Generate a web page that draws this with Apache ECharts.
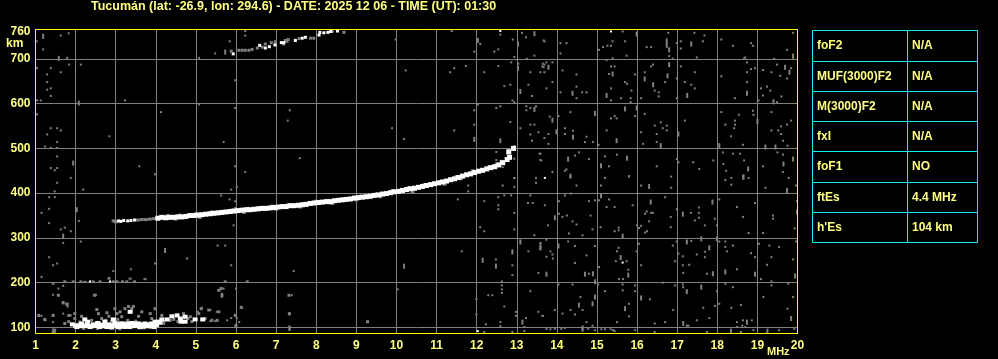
<!DOCTYPE html>
<html><head><meta charset="utf-8">
<script src="https://cdn.jsdelivr.net/npm/echarts@6/dist/echarts.min.js"></script>
<style>html,body{margin:0;padding:0;background:#000;}#c{width:998px;height:359px;}</style>
</head><body><div id="c"></div><script>
const titleText = "Tucumán (lat: -26.9, lon: 294.6) - DATE: 2025 12 06 - TIME (UT): 01:30";
const heightTicks = [100, 200, 300, 400, 500, 600, 700];
const heightLabels = [100, 200, 300, 400, 500, 600, 700, 760];
const freqMin = 1, freqMax = 20;
const tableLabels = ["foF2", "MUF(3000)F2", "M(3000)F2", "fxI", "foF1", "ftEs", "h'Es"];
const tableValues = ["N/A", "N/A", "N/A", "N/A", "NO", "4.4 MHz", "104 km"];

// F-layer trace (white), [MHz, km]
const fTraceStart = [[3.07,338],[3.13,337],[3.2,339],[3.3,338],[3.38,339],[3.47,340]];
const fTraceWhite = [[4.05,344],[4.15,346],[4.25,345],[4.35,346],[4.45,346],[4.55,347],[4.65,347],[4.75,348],[4.85,350],[4.95,350],[5.05,351],[5.15,352],[5.25,353],[5.35,354],[5.45,355],[5.55,356],[5.65,357],[5.75,358],[5.85,359],[5.95,360],[6.05,361],[6.15,362],[6.25,363],[6.35,363],[6.45,364],[6.55,365],[6.65,366],[6.75,366],[6.85,367],[6.95,368],[7.05,369],[7.15,370],[7.25,370],[7.35,372],[7.45,372],[7.55,373],[7.65,374],[7.75,375],[7.85,377],[7.95,378],[8.05,379],[8.15,380],[8.25,381],[8.35,381],[8.45,383],[8.55,384],[8.65,385],[8.75,386],[8.85,387],[8.95,389],[9.05,390],[9.15,391],[9.25,392],[9.35,393],[9.45,395],[9.55,396],[9.65,398],[9.75,399],[9.85,401],[9.95,403],[10.05,404],[10.15,406],[10.25,408],[10.35,410],[10.45,411],[10.55,413],[10.65,415],[10.75,417],[10.85,419],[10.95,421],[11.05,423],[11.15,425],[11.25,427],[11.35,430],[11.45,432],[11.55,435],[11.65,438],[11.75,441],[11.85,443],[11.95,446],[12.05,449],[12.15,451],[12.25,454],[12.35,457],[12.45,459],[12.55,463],[12.65,468],[12.76,475],[12.82,480],[12.8,492],[12.92,500]];
const fTraceGray = [[3.55,340],[3.65,341],[3.75,341],[3.85,342],[3.95,343],[4.3,350],[4.6,351],[5.0,354],[5.4,358],[5.9,362],[6.3,366],[6.6,368],[6.9,371],[7.3,374],[7.7,377],[8.0,382],[8.3,384],[8.7,388],[9.1,393],[9.5,398],[9.9,406],[10.3,412],[10.7,419],[11.1,426],[11.5,437],[11.9,450],[12.3,458],[12.5,465],[4.5,342],[5.1,346],[6.2,357],[7.0,364],[7.6,369],[8.4,377],[9.0,385],[9.6,392],[10.4,403],[11.2,420],[11.6,432],[12.8,497],[12.62,471],[3.0,336],[2.95,338]];

// second-hop trace near the top
const hop2White = [[5.93,711],[6.59,730],[6.73,724],[6.83,727],[6.97,731],[7.13,736],[7.19,736],[7.48,741],[7.65,746],[7.73,748],[8.07,753],[8.09,759],[8.19,758],[8.29,759],[8.36,761],[8.53,762]];
const hop2Gray = [[5.88,717],[6.07,719],[6.15,719],[6.23,719],[6.32,719],[6.4,721],[6.53,724],[6.65,726],[6.73,733],[6.88,736],[6.98,738],[7.23,741],[7.3,743],[7.27,739],[7.19,733],[7.57,745],[7.86,746],[7.94,746],[8.4,761],[8.69,759]];

// sporadic E trace near 100 km
const esWhite = [[1.92,107],[2.03,101],[2.07,105],[2.15,109],[2.23,118],[2.3,113],[2.32,103],[2.4,103],[2.48,103],[2.57,107],[2.65,103],[2.73,113],[2.73,103],[2.82,107],[2.9,105],[2.94,118],[2.98,110],[3.03,103],[3.11,109],[3.19,109],[3.23,101],[3.32,109],[3.36,135],[3.4,110],[3.48,109],[3.57,109],[3.65,105],[3.73,109],[3.82,106],[3.9,109],[3.98,113],[4.07,113],[4.15,118],[4.28,118],[4.4,125],[4.53,127],[4.61,120],[4.63,113],[4.73,124],[4.73,113],[4.98,118],[5.17,118],[2.2,103],[2.6,101],[2.9,100],[3.1,101],[3.45,103],[3.7,102],[3.9,103],
[2.0,104],[2.12,103],[2.28,106],[2.36,101],[2.44,107],[2.52,104],[2.69,106],[2.78,101],[2.86,103],[3.0,107],[3.07,101],[3.15,104],[3.27,105],[3.35,101],[3.52,104],[3.6,101],[3.78,103],[3.95,101],[4.02,105],[4.1,111],[3.62,107],[3.85,107],[3.3,103],[2.55,110]];
const esGray = [[1.08,127],[1.23,118],[1.44,127],[1.48,94],[1.57,172],[1.69,155],[1.78,152],[1.83,127],[1.98,131],[1.98,120],[2.15,125],[2.47,172],[2.53,140],[2.57,131],[2.65,120],[2.78,133],[2.83,125],[2.98,142],[3.03,131],[3.11,135],[3.15,124],[3.23,142],[3.32,147],[3.4,142],[3.44,147],[3.57,125],[3.65,135],[3.86,131],[3.9,120],[3.98,142],[4.15,127],[4.19,109],[4.36,116],[4.69,131],[4.86,124],[4.9,113],[5.07,131],[5.13,142],[5.23,120],[5.32,139],[5.4,116],[5.53,116],[5.57,135],[5.57,183],[5.65,172],[5.63,187],[5.98,127],[6.0,105],[6.13,145],[7.32,172],[7.33,131],[9.28,113],[1.44,90],[1.73,109],[1.83,113],[2.1,112],[2.4,116],[2.6,110],[2.75,116],[2.9,112],[3.05,118],[3.3,116],[3.5,114],[3.7,99],[3.85,100],[4.0,103],[4.1,109],[4.2,113],[4.45,118],[4.55,113],[4.8,120],[2.2,98],[2.55,98],[3.1,97],[3.6,99]];

// weak echo near 200 km
const weak200Gray = [[1.44,198],[1.73,203],[1.94,203],[2.13,203],[2.23,202],[2.44,203],[2.61,203],[2.83,209],[2.94,203],[3.03,203],[3.17,203],[3.28,203],[3.36,209],[3.47,203],[3.73,208],[5.73,203],[6.28,203]];
const weak200White = [[2.36,203],[2.86,203]];

// scattered noise dots
const noiseWhite = [[15.35,761],[13.7,434],[15.64,245],[12.03,92],[12.59,762]];
const noiseDots = [[1.03,739],[1.63,752],[1.83,757],[1.19,721],[1.79,702],[1.84,687],[2.13,687],[1.04,679],[1.38,679],[1.29,665],[1.63,670],[1.29,648],[1.29,631],[1.38,634],[1.38,617],[1.04,607],[1.13,607],[3.23,607],[1.04,576],[4.13,581],[5.08,598],[5.08,702],[5.84,739],[5.98,652],[5.98,590],[6.23,762],[6.23,752],[5.48,712],[1.38,545],[1.54,545],[1.63,540],[1.29,531],[1.54,514],[1.24,504],[1.38,501],[1.54,501],[1.54,482],[1.38,456],[1.54,456],[1.48,451],[1.88,434],[2.84,527],[3.59,460],[3.98,442],[5.69,514],[5.98,460],[6.23,447],
[1.54,423],[1.48,404],[1.34,391],[1.48,391],[2.19,408],[1.15,356],[1.34,365],[2.08,338],[1.34,333],[1.63,319],[1.73,323],[1.88,315],[1.69,289],[2.13,292],[5.88,408],[6.02,414],[5.63,395],[5.84,386],[5.98,382],[5.98,367],[5.94,328],[5.54,283],[5.73,283],[4.78,254],[3.98,243],[5.88,239],[1.34,257],[1.44,239],[1.54,243],[1.15,213],[2.94,226],[3.38,230],[2.84,211],[1.57,187],[1.69,193],[1.44,173],[1.69,157],[2.51,173],[5.58,183],[5.69,187],[6.0,187],[6.15,144],[6.02,121],[6.08,112],[5.88,121],[1.15,126],[1.25,116],[1.44,112],[1.69,131],[1.88,127],[1.44,96],[1.48,90],[1.73,109],[5.36,139],[5.52,135],[5.15,144],[5.05,135],[5.78,116],[5.36,114],[5.48,114],[5.98,101],
[11.38,762],[12.59,754],[13.13,758],[13.23,748],[13.67,741],[9.98,743],[12.09,733],[12.9,743],[12.44,716],[12.54,721],[11.94,716],[13.44,707],[12.94,704],[13.25,700],[13.04,689],[12.86,692],[13.65,689],[13.67,681],[10.23,674],[11.44,679],[11.34,670],[11.73,684],[12.19,670],[12.54,684],[13.34,670],[13.59,670],[12.69,639],[12.84,642],[13.29,642],[13.38,617],[12.89,607],[12.94,603],[12.03,598],[12.49,590],[12.59,594],[13.24,594],[13.24,585],[13.34,590],[13.48,594],[7.34,585],[7.29,562],[11.94,585],[12.84,559],[13.34,553],[13.44,553],[11.94,553],[9.89,545],[11.44,540],[13.09,545],[13.54,536],[13.34,531],[10.19,521],[13.38,517],[12.94,505],[7.59,478],[12.49,492],[12.49,474],[12.65,458],[12.94,477],[13.59,488],[13.59,474],[12.94,434],[13.48,434],
[15.64,761],[16.78,758],[17.43,758],[17.68,752],[19.89,758],[13.69,739],[14.09,735],[14.24,735],[14.09,712],[15.15,726],[15.05,720],[15.26,729],[15.35,729],[15.39,739],[15.7,739],[15.74,707],[15.39,701],[16.24,726],[16.35,726],[16.8,706],[16.99,735],[17.09,739],[17.09,723],[17.64,739],[17.49,703],[18.1,743],[18.39,729],[18.84,735],[18.89,729],[19.74,720],[18.7,703],[13.64,683],[13.69,687],[13.74,692],[13.89,692],[13.69,670],[14.14,674],[14.49,665],[13.89,648],[13.74,634],[14.09,625],[14.49,638],[14.49,612],[14.63,625],[14.74,625],[15.35,683],[15.44,683],[15.3,666],[15.24,697],[15.35,634],[15.35,607],[15.6,612],[15.7,648],[15.75,644],[15.86,629],[15.84,612],[15.84,603],[15.95,665],[16.1,612],[16.19,670],[16.35,683],[16.4,687],[16.44,629],[16.54,625],[16.54,616],[16.7,648],[16.99,656],[16.89,700],[16.99,612],[17.09,683],[17.19,648],[17.35,642],[17.44,634],[17.44,670],[18.1,661],[18.44,612],[18.74,692],[18.74,670],[18.74,648],[18.84,677],[18.94,679],[19.14,675],[19.35,670],[19.49,687],[19.57,662],[19.74,656],[19.84,679],[19.09,634],[19.24,638],[19.32,629],[19.6,616],[19.49,603],[19.14,618],[19.03,607],[18.67,701],[19.42,700],[19.89,703],
[13.82,571],[14.04,572],[14.34,581],[14.2,545],[14.4,539],[14.2,532],[13.79,532],[13.69,523],[13.79,510],[14.74,526],[14.7,514],[14.9,514],[15.04,508],[15.35,567],[15.44,572],[15.49,567],[15.95,572],[15.24,540],[16.19,577],[16.44,551],[16.59,558],[16.74,551],[16.64,545],[16.74,540],[16.1,536],[16.49,532],[16.49,514],[16.15,510],[17.19,562],[18.1,581],[18.2,553],[18.44,562],[18.44,553],[18.42,545],[18.34,527],[18.54,575],[18.89,584],[18.9,575],[18.64,508],[19.35,581],[19.35,540],[19.52,540],[19.59,549],[19.59,532],[19.64,517],[19.74,553],[19.84,562],[19.75,506],
[13.57,488],[13.61,473],[13.89,447],[14.2,450],[14.45,484],[14.55,491],[14.8,476],[14.24,453],[15.2,482],[15.5,486],[15.8,438],[15.3,460],[15.2,434],[16.49,460],[16.99,476],[17.03,469],[17.4,469],[17.55,454],[17.9,473],[18.14,491],[18.15,465],[18.22,450],[18.39,488],[18.57,488],[18.67,473],[19.14,460],[19.5,491],[19.64,486],[19.64,447],
[14.34,437],[14.49,417],[15.2,434],[15.1,417],[15.8,437],[16.1,417],[16.85,437],[16.85,412],[18.2,429],[18.35,434],[18.35,419],[18.78,434],[19.2,412],[19.78,434],[19.97,417],[14.2,395],[14.35,399],[14.05,382],[14.8,382],[14.95,384],[13.7,373],[14.05,354],[14.14,347],[14.25,350],[14.39,337],[14.49,330],[13.78,328],[14.3,310],[14.64,306],[14.84,350],[14.89,319],[15.05,384],[15.3,386],[15.24,369],[15.44,369],[15.09,324],[15.54,323],[15.54,317],[15.44,315],[15.89,373],[16.0,328],[16.05,322],[16.1,327],[16.2,354],[16.24,359],[16.35,356],[16.39,356],[16.3,337],[16.7,391],[16.84,347],[16.84,324],[16.2,312],[16.25,315],[16.99,364],[17.34,356],[17.54,368],[17.54,356],[17.54,345],[17.44,339],[17.69,328],[17.94,343],[17.99,328],[18.05,386],[18.49,369],[18.64,347],[18.94,378],[19.39,350],[19.39,343],[18.78,311],[19.14,311],[19.99,382],[19.93,321],
[13.59,289],[13.74,296],[13.84,270],[13.89,263],[13.74,258],[13.9,254],[14.28,292],[14.45,282],[14.74,261],[14.45,244],[14.8,220],[14.95,282],[15.05,235],[15.54,278],[15.74,248],[15.5,270],[15.47,248],[15.78,229],[15.65,208],[15.55,208],[15.99,270],[16.05,287],[16.1,239],[16.89,283],[16.95,248],[16.99,292],[17.03,265],[17.14,259],[17.35,293],[17.49,263],[17.69,269],[17.69,257],[17.74,220],[17.3,240],[17.15,222],[17.14,239],[18.05,292],[18.2,292],[18.2,280],[18.24,270],[18.39,283],[18.49,230],[18.84,266],[18.94,257],[19.04,287],[19.09,208],[19.3,283],[19.54,280],[19.35,257],[19.24,240],[19.35,203],[19.89,252],[19.97,292],
[14.04,196],[14.39,196],[14.59,168],[14.64,139],[14.74,112],[14.89,104],[13.95,139],[13.65,126],[14.14,131],[14.34,139],[14.45,129],[14.78,97],[15.03,196],[15.2,181],[15.2,96],[15.34,96],[15.4,94],[15.5,112],[15.64,196],[15.64,183],[15.8,153],[15.8,125],[15.95,194],[15.95,181],[15.95,94],[16.32,163],[16.44,109],[16.7,112],[16.64,200],[16.9,139],[16.95,194],[17.14,196],[17.15,190],[17.28,104],[17.49,116],[17.65,144],[17.8,121],[17.94,148],[17.99,181],[18.05,153],[18.2,198],[18.39,190],[18.35,144],[18.49,112],[18.59,150],[18.64,116],[18.86,116],[18.62,104],[18.49,101],[18.7,101],[19.15,168],[19.35,194],[19.75,142],[19.89,168],[19.77,198],[14.11,97],[14.2,99],[14.95,94],[15.11,96],[15.44,92],[16.44,90],[17.24,104],[17.74,90],[18.59,90],[18.9,94],[19.54,94],[19.92,97],[13.74,97],[13.84,96],[13.95,97],
[12.94,434],[13.48,423],[12.94,414],[11.79,417],[11.79,404],[12.65,417],[12.69,395],[12.86,395],[13.34,395],[12.54,391],[11.53,386],[12.19,382],[13.28,378],[13.4,378],[12.54,373],[12.54,364],[12.94,356],[12.09,324],[12.19,315],[12.94,319],[13.44,306],[13.59,287],[11.63,270],[13.29,270],[12.48,252],[12.89,239],[12.89,217],[13.54,222],[7.44,226],[12.63,203],[12.63,194],[12.63,185],[12.63,177],[10.03,185],[7.39,172],[12.29,172],[12.39,172],[13.34,181],[12.69,147],[7.34,129],[9.29,112],[11.99,163],[11.99,129],[12.98,135],[12.98,126],[13.23,121],[13.54,135],[13.64,126],[13.19,101],[12.23,107],[12.59,112],[12.59,103],[12.19,90],[12.89,90],[13.19,92]];
const noiseTall = [[1.19,750],[1.58,701],[2.08,601],[5.73,715],[1.94,467],[2.03,363],[1.69,304],[4.23,272],[1.8,150],[5.65,172],[7.33,98],
[13.44,756],[12.03,741],[13.03,733],[13.03,679],[13.09,627],[13.44,587],[11.94,520],[12.59,517],
[15.99,755],[16.74,740],[16.74,730],[16.8,720],[17.35,733],[19.89,706],[13.79,681],[14.39,623],[15.39,666],[15.24,618],[16.19,655],[16.4,642],[16.76,662],[16.8,687],[17.25,618],[18.74,623],[19.69,681],[19.8,670],[19.4,604],[13.89,563],[14.95,578],[13.99,537],[14.4,525],[15.7,588],[15.49,517],[15.99,590],[16.59,506],[17.03,532],[18.05,506],[19.0,560],[19.2,503],[19.45,503],[14.28,476],[14.34,438],[15.1,461],[15.75,478],[18.77,454],[18.65,436],[19.65,465],[19.89,476],
[16.3,415],[18.65,436],[19.74,406],[13.95,345],[15.1,394],[15.64,304],[16.34,380],[17.14,353],[17.88,380],[19.99,358],[13.59,278],[14.04,282],[13.74,219],[14.7,219],[14.9,220],[14.95,202],[15.59,256],[15.78,217],[17.24,291],[17.6,298],[17.8,278],[17.89,220],[17.99,298],[18.2,224],[18.94,219],[19.94,215],[14.55,150],[14.89,153],[14.95,168],[14.64,99],[15.7,142],[16.1,166],[17.15,109],[17.24,180],[17.6,190],[18.74,112],[19.84,120],[14.64,96],[18.34,92],[19.25,92],
[13.09,291],[13.59,278],[12.89,269],[12.15,250],[12.48,237],[10.19,237],[13.14,112],[7.34,99]];

const gray = '#808080';
const txt = '#ffff80';
const yellow = '#ffff00';
function sc(name, data, color, size, z) {
  return { name, type: 'scatter', data, symbol: 'rect', symbolSize: size, silent: true,
    itemStyle: { color, opacity: 1 }, z: z || 2, animation: false };
}

const chart = echarts.init(document.getElementById('c'), null, { renderer: 'canvas' });
const gL = 35.5, gT = 29.5, gW = 762, gH = 304;
const graphics = [
  { type: 'text', left: 91, top: 0, style: { text: titleText, fill: txt, font: 'bold 12.5px Arial' } },
  { type: 'text', left: 6, top: 38, style: { text: 'km', fill: txt, font: 'bold 12px Arial' } },
  { type: 'text', left: 767, top: 346, style: { text: 'MHz', fill: txt, font: 'bold 11px Arial' } },
  { type: 'rect', z: 100, silent: true, shape: { x: gL, y: gT, width: gW, height: gH }, style: { fill: 'none', stroke: yellow, lineWidth: 1 } }
];
// table
const tx0 = 812.5, tx1 = 907.5, tx2 = 977.5, ty0 = 30.5;
const rowTops = [30.5, 61.5, 91.5, 121.5, 151.5, 182.5, 212.5, 242.5];
const cyan = '#10f0f0';
graphics.push({ type: 'rect', shape: { x: tx0, y: ty0, width: tx2 - tx0, height: rowTops[7] - ty0 }, style: { fill: 'none', stroke: cyan, lineWidth: 1 } });
graphics.push({ type: 'line', shape: { x1: tx1, y1: ty0, x2: tx1, y2: rowTops[7] }, style: { stroke: cyan, lineWidth: 1 } });
for (let i = 1; i < 7; i++) {
  graphics.push({ type: 'line', shape: { x1: tx0, y1: rowTops[i], x2: tx2, y2: rowTops[i] }, style: { stroke: cyan, lineWidth: 1 } });
}
tableLabels.forEach((lab, i) => {
  const cy = (rowTops[i] + rowTops[i + 1]) / 2;
  graphics.push({ type: 'text', x: 817, y: cy, style: { text: lab, fill: txt, font: 'bold 12px Arial', verticalAlign: 'middle' } });
  graphics.push({ type: 'text', x: 912, y: cy, style: { text: tableValues[i], fill: txt, font: 'bold 12px Arial', verticalAlign: 'middle' } });
});

chart.setOption({
  backgroundColor: '#000',
  animation: false,
  grid: { left: gL, top: gT, width: gW, height: gH, show: true, borderColor: yellow, borderWidth: 1, backgroundColor: '#000' },
  xAxis: { type: 'value', min: freqMin, max: freqMax, interval: 1,
    axisLine: { show: false }, axisTick: { show: false },
    splitLine: { show: true, showMinLine: false, showMaxLine: false, lineStyle: { color: gray, width: 1 } },
    axisLabel: { color: txt, fontWeight: 'bold', fontSize: 12, fontFamily: 'Arial', margin: 6 } },
  yAxis: { type: 'value', min: 86.6, max: 765.4,
    axisLine: { show: false },
    axisTick: { show: false, customValues: heightTicks },
    splitLine: { show: true, lineStyle: { color: gray, width: 1 } },
    axisLabel: { customValues: heightLabels, color: txt, fontWeight: 'bold', fontSize: 12, fontFamily: 'Arial', margin: 5 } },
  graphic: graphics,
  series: [
    sc('noise', noiseDots, gray, [2, 2]),
    sc('noiseTall', noiseTall, gray, [2, 5]),
    sc('noiseWhite', noiseWhite, '#fff', [2, 2], 3),
    sc('weak200', weak200Gray, gray, [3, 2]),
    sc('weak200w', weak200White, '#fff', [2, 2], 3),
    sc('esGray', esGray, gray, [3, 3]),
    sc('esWhite', esWhite, '#fff', [5, 4], 3),
    sc('fGray', fTraceGray, gray, [4, 3]),
    sc('fStart', fTraceStart, '#fff', [3, 3], 3),
    sc('fWhite', fTraceWhite, '#fff', [5, 5], 3),
    sc('hop2Gray', hop2Gray, gray, [3, 3]),
    sc('hop2White', hop2White, '#fff', [3, 3], 3)
  ]
});
</script></body></html>
